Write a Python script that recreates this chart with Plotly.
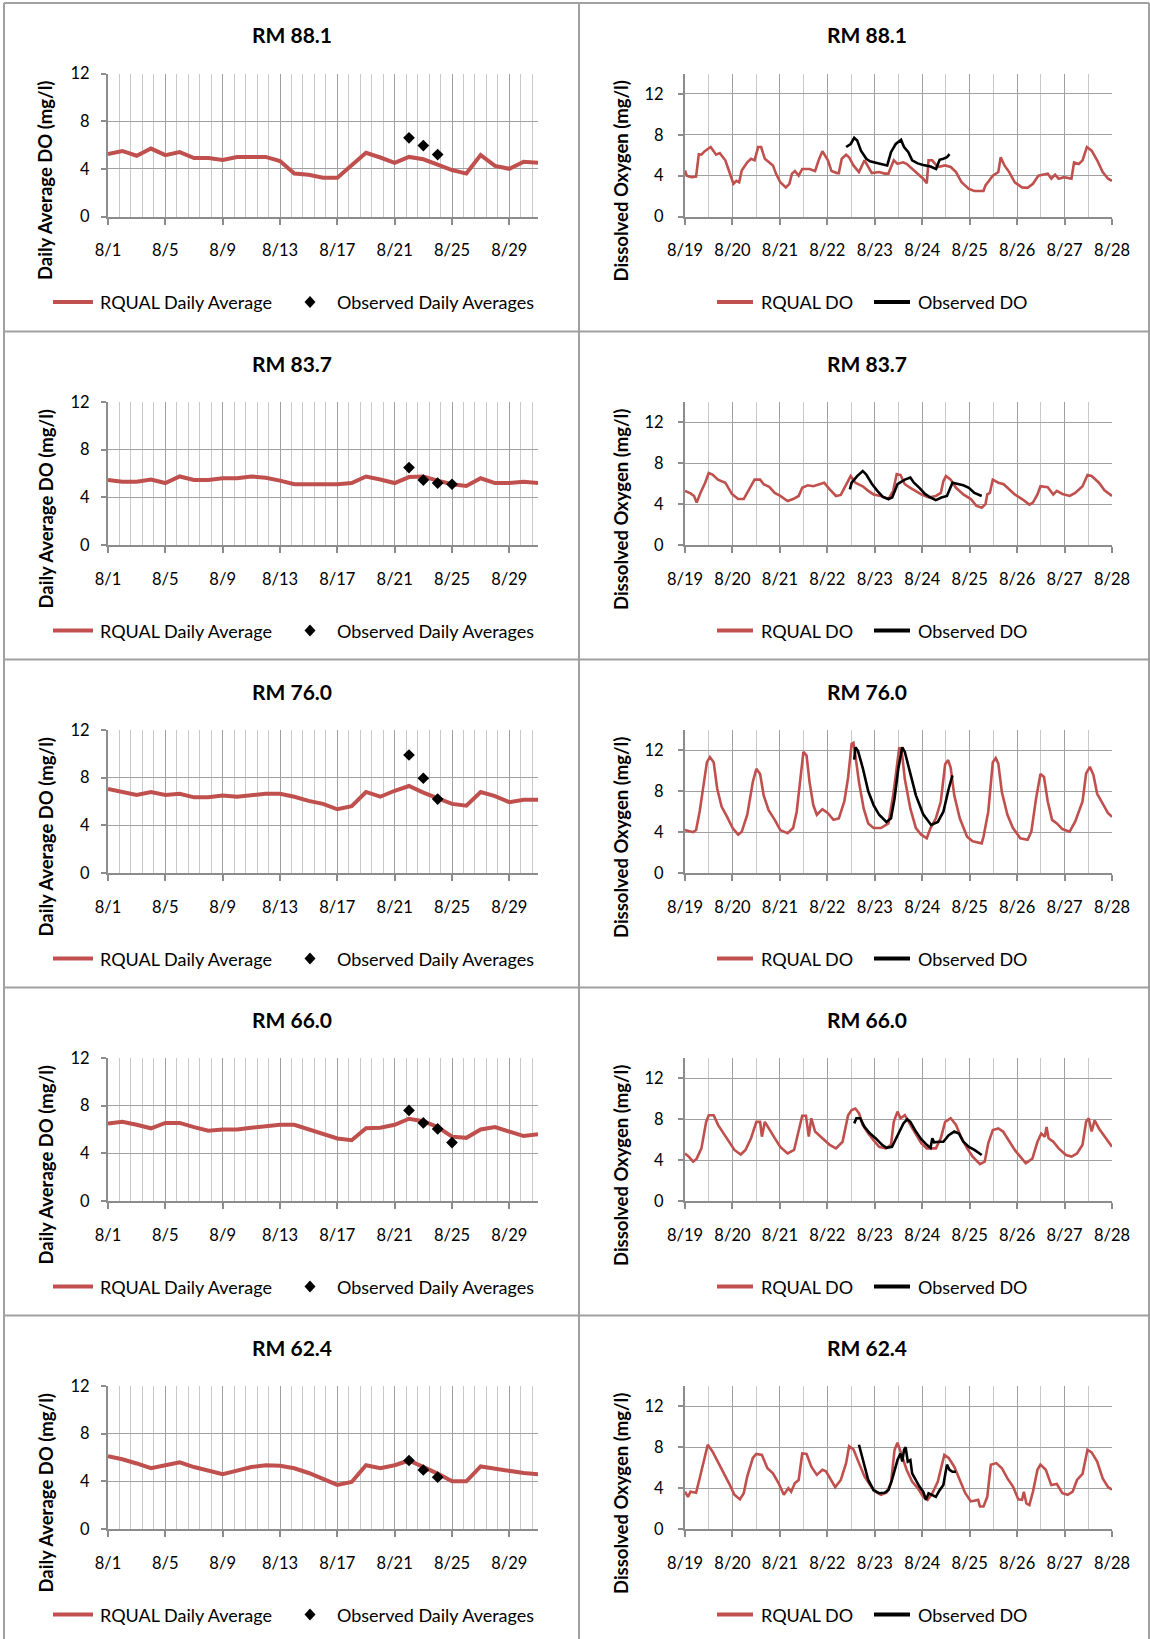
import plotly.graph_objects as go
import pandas as pd

# ---------------- DATA ----------------
titles = ["RM 88.1", "RM 83.7", "RM 76.0", "RM 66.0", "RM 62.4"]

# Daily averages 8/1 .. 8/31 (left column)
rm881_avg = [5.25, 5.5, 5.1, 5.7, 5.15, 5.4, 4.9, 4.9, 4.75, 5.0, 5.0, 5.0, 4.65, 3.6, 3.5, 3.25,
             3.25, 4.3, 5.35, 4.95, 4.5, 5.0, 4.8, 4.35, 3.9, 3.6, 5.15, 4.25, 4.0, 4.6, 4.5]
rm837_avg = [5.45, 5.3, 5.3, 5.5, 5.2, 5.75, 5.45, 5.45, 5.6, 5.6, 5.75, 5.65, 5.4, 5.1, 5.1, 5.1,
             5.1, 5.2, 5.75, 5.5, 5.2, 5.7, 5.75, 5.4, 5.1, 4.95, 5.6, 5.2, 5.2, 5.3, 5.2]
rm760_avg = [7.05, 6.8, 6.55, 6.8, 6.55, 6.65, 6.35, 6.35, 6.5, 6.4, 6.5, 6.65, 6.65, 6.4, 6.05, 5.8,
             5.35, 5.6, 6.8, 6.4, 6.9, 7.3, 6.75, 6.25, 5.8, 5.65, 6.8, 6.45, 5.95, 6.15, 6.15]
rm660_avg = [6.5, 6.65, 6.4, 6.1, 6.55, 6.55, 6.2, 5.9, 6.0, 6.0, 6.15, 6.25, 6.4, 6.4, 6.0, 5.65,
             5.25, 5.1, 6.1, 6.15, 6.4, 6.9, 6.7, 6.2, 5.4, 5.3, 6.0, 6.2, 5.8, 5.45, 5.6]
rm624_avg = [6.1, 5.85, 5.5, 5.1, 5.35, 5.6, 5.2, 4.9, 4.6, 4.9, 5.2, 5.35, 5.3, 5.1, 4.7, 4.2,
             3.7, 3.95, 5.35, 5.1, 5.35, 5.75, 5.2, 4.65, 4.0, 4.0, 5.25, 5.05, 4.9, 4.7, 4.6]

# Observed daily averages (day of August, value)
rm881_obs_day = [22, 23, 24]
rm881_obs = [6.6, 5.95, 5.2]
rm837_obs_day = [22, 23, 24, 25]
rm837_obs = [6.5, 5.45, 5.2, 5.1]
rm760_obs_day = [22, 23, 24]
rm760_obs = [9.9, 7.95, 6.2]
rm660_obs_day = [22, 23, 24, 25]
rm660_obs = [7.6, 6.55, 6.05, 4.9]
rm624_obs_day = [22, 23, 24]
rm624_obs = [5.75, 4.95, 4.35]

# Time series (hours after 8/19 00:00, DO mg/l) - right column
rm881_rq_h = [0, 0.9, 3.3, 5.6, 7, 8.3, 10, 13, 14.5, 15.7, 17.6, 20.4, 22.2, 24.5, 26, 27.4, 28.7, 31.5,
              33.4, 35.2, 37, 38.5, 40.4, 42.6, 44.5, 46, 48.2, 51, 52.8, 54.1, 55.6, 57.5, 59.3, 63, 65.8,
              67.6, 69.5, 72.3, 74.1, 76.9, 77.8, 79.3, 81.5, 83, 85.2, 88, 90.8, 92.7, 94.5, 98.2, 101,
              102.9, 105.6, 107.5, 110.3, 112.1, 114.9, 117.7, 120.5, 122.3, 123.2, 125, 127.9, 131.6,
              134.4, 137.1, 139.9, 143.6, 146.4, 151, 152, 153.8, 155.7, 158.5, 159.7, 161.6, 164, 166.8,
              170.5, 173.3, 176, 178.8, 181.6, 183.5, 185.3, 187.2, 189, 191.8, 195.5, 196.8, 199.2,
              201.1, 203.3, 205.7, 208.5, 211.3, 214, 216]
rm881_rq_do = [4.5, 4.0, 3.85, 3.9, 6.1, 6.05, 6.4, 6.8, 6.4, 6.05, 6.2, 5.5, 4.5, 3.2, 3.5, 3.35, 4.5, 5.3,
               5.65, 5.5, 6.8, 6.8, 5.65, 5.3, 5.0, 4.2, 3.35, 2.85, 3.2, 4.2, 4.45, 4.0, 4.65, 4.65, 4.45,
               5.5, 6.4, 5.5, 4.45, 4.25, 4.25, 5.65, 6.05, 5.8, 5.0, 4.35, 5.5, 4.85, 4.25, 4.35, 4.2,
               4.2, 5.5, 5.15, 5.3, 5.15, 4.65, 4.2, 3.7, 3.25, 5.5, 5.5, 4.85, 5.0,
               4.85, 4.35, 3.35, 2.7, 2.5, 2.5, 3.05, 3.5, 4.0, 4.35, 5.8, 5.0, 4.35, 3.35,
               2.85, 2.8, 3.2, 4.0, 4.1, 4.2, 3.7, 4.1, 3.7, 3.85, 3.7, 5.3, 5.15,
               5.5, 6.8, 6.45, 5.5, 4.35, 3.7, 3.5]
rm881_ob_h = [81.5, 83.8, 85.6, 87.1, 89, 91.7, 93.6, 96.4, 99.1, 102.3, 104.2, 106.6, 109.3, 110.8, 113,
              114.9, 117.7, 120.5, 124.2, 127, 128.8, 130.7, 132.5, 133.8]
rm881_ob_do = [6.8, 7.1, 7.7, 7.45, 6.45, 5.65, 5.4, 5.3, 5.15, 5.0, 6.3, 7.1, 7.5, 6.8, 6.3,
               5.5, 5.2, 5.05, 4.9, 4.65, 5.55, 5.65, 5.8, 6.1]

rm837_rq_h = [0, 2.8, 4.6, 5.9, 7.8, 10.2, 12, 13.9, 16.7, 20.4, 23.7, 26.9, 29.7, 32.4, 35.2, 38, 39.8,
              42.6, 45.4, 48.2, 51.9, 54.7, 57.5, 59.3, 62.1, 64.9, 67.6, 70.4, 73.2, 76.4, 78.8, 81.5,
              83.8, 86.2, 89.9, 92.7, 95.4, 99.1, 102.9, 105.3, 107.1, 109, 111.2, 114, 116.8, 119.5,
              123.2, 126.9, 129.4, 130.7, 132, 134.4, 137.1, 140.8, 144.6, 147.3, 150.1, 152, 152.9,
              154.2, 155.7, 158.5, 161.2, 164, 166.8, 170.5, 174.2, 176, 178.3, 179.8, 183.5, 186.3,
              188.1, 190.9, 194.6, 197.4, 201.1, 203.6, 205.7, 209.4, 212.2, 216]
rm837_rq_do = [5.3, 5.05, 4.8, 4.15, 5.1, 6.1, 7.05, 6.9, 6.4, 6.1, 5.0, 4.5, 4.5, 5.45, 6.4, 6.4, 5.95,
               5.7, 5.1, 4.8, 4.3, 4.5, 4.8, 5.6, 5.85, 5.75, 5.95, 6.1, 5.45, 4.8, 4.9, 5.95,
               6.75, 6.1, 5.75, 5.3, 4.95, 4.8, 4.5, 5.3, 6.95, 6.85, 5.95, 5.6, 5.3, 4.95,
               4.65, 4.8, 5.1, 6.25, 6.75, 6.4, 5.6, 4.95, 4.5, 3.85, 3.65, 4.0, 4.95,
               5.1, 6.4, 6.1, 5.95, 5.45, 4.95, 4.5, 3.95, 4.15, 4.95, 5.75, 5.65, 4.95,
               5.3, 5.0, 4.8, 5.1, 5.75, 6.85, 6.75, 6.1, 5.35, 4.8]
rm837_ob_h = [83.4, 84.3, 87.1, 89.9, 91.7, 94.5, 97.3, 100.1, 102.9, 104.8, 107.5, 111.2, 114, 115.8,
              118.6, 121.4, 124.2, 126.9, 129.7, 132.5, 135.3, 138.1, 140.8, 143.6, 146.4, 150.1]
rm837_ob_do = [5.45, 6.1, 6.75, 7.25, 6.9, 6.0, 5.3, 4.7, 4.5, 4.65, 5.95, 6.4, 6.6, 6.1,
               5.6, 5.0, 4.65, 4.4, 4.65, 4.8, 6.1, 6.0, 5.85, 5.6, 5.1, 4.8]

rm760_rq_h = [0, 1.9, 4.1, 5.6, 7.4, 9.6, 11.1, 12.6, 14.5, 16.3, 18.5, 21.3, 24.1, 26.9, 28.7, 31.5, 34.3,
              36.1, 38, 39.8, 42.3, 45.4, 48.2, 51.9, 54.7, 56.5, 58.4, 59.9, 61.5, 63, 64.9, 66.7, 69.5,
              72.3, 75.1, 77.8, 80.6, 82.5, 84.3, 85.2, 86.2, 88, 90.4, 92.7, 95.4, 99.1, 102.9, 105.3,
              106.6, 108.4, 109.7, 111.2, 114, 116.8, 119.5, 122.3, 124.2, 126.9, 129.4, 131.6, 133.1,
              134.4, 136.2, 139, 142.7, 145.5, 150.1, 151, 153.4, 155.7, 157.2, 158.5, 160.3, 163.1,
              165.9, 169.6, 173.3, 175.2, 177.6, 179.8, 181.6, 183.5, 185.7, 188.1, 190.9, 194.6, 197.4,
              201.1, 202.9, 204.8, 206.6, 208.5, 211.3, 214, 216]
rm760_rq_do = [4.2, 4.1, 4.0, 4.2, 6.0, 8.9, 10.85, 11.35, 10.85, 8.25, 6.5, 5.5, 4.4, 3.75, 4.05, 5.7, 8.9,
               10.2, 9.7, 7.6, 6.15, 5.2, 4.2, 3.9, 4.4, 6.0, 9.65, 11.85, 11.5, 8.9, 6.65, 5.7, 6.25,
               5.85, 5.2, 5.35, 7.0, 9.35, 12.65, 12.75, 11.5, 8.9, 6.3, 4.85, 4.4, 4.4, 4.85, 7.6,
               9.55, 12.3, 11.8, 9.2, 6.3, 4.4, 3.75, 3.4, 4.4, 5.35, 7.0, 10.65, 11.05,
               10.3, 7.6, 5.35, 3.55, 3.1, 2.9, 3.55, 6.0, 10.85, 11.25, 10.7, 7.9, 5.7,
               4.4, 3.4, 3.25, 4.05, 7.3, 9.7, 9.4, 7.0, 5.2, 4.85, 4.3, 4.05, 5.05,
               7.0, 9.75, 10.4, 9.6, 7.75, 6.8, 5.85, 5.5]
rm760_ob_h = [85.6, 86.2, 87.5, 89.9, 92.7, 95.4, 98.2, 101.9, 104.2, 106, 107.9, 109.9, 111.2, 114,
              116.8, 120.5, 124.5, 127.9, 130.7, 133.4, 135.3]
rm760_ob_do = [11.1, 12.3, 11.95, 10.3, 8.0, 6.65, 5.7, 5.0, 5.35, 7.3, 10.2, 12.3, 11.85, 9.7,
               7.6, 5.75, 4.7, 5.0, 6.0, 8.25, 9.55]

rm660_rq_h = [0, 1.9, 4.1, 5.9, 8.3, 10.7, 12, 14.5, 16.7, 19.5, 22.2, 25, 28.2, 30.6, 33.4, 36.1, 38,
              38.9, 40.4, 42.3, 45.4, 48.2, 51.9, 55.2, 57.5, 59.3, 61.2, 62.6, 63.9, 65.8, 69.5, 73.2,
              76.4, 79.7, 82.5, 84.3, 86.2, 88, 89.9, 92.7, 95.4, 98.2, 101.6, 104.2, 105.6, 107.5, 109,
              111.2, 114, 116.8, 119.5, 122.3, 126.9, 129.4, 131.6, 134.4, 137.1, 139.9, 142.7, 145.5,
              149.2, 151.6, 153.4, 155.7, 158.5, 160.9, 164, 166.8, 169.6, 172.4, 175.7, 178.3, 180.2,
              182, 182.9, 183.9, 186.3, 189, 192.7, 195.5, 198.3, 201.1, 202.9, 204.2, 205.7, 207.2,
              209.4, 212.2, 216]
rm660_rq_do = [4.65, 4.35, 3.85, 4.15, 5.15, 7.75, 8.4, 8.4, 7.45, 6.6, 5.8, 5.0, 4.55, 5.0, 6.15, 7.75, 7.75,
               6.3, 7.75, 7.1, 6.15, 5.3, 4.65, 5.0, 6.8, 8.35, 8.35, 6.3, 8.1, 6.8, 6.15, 5.5,
               5.15, 5.8, 8.4, 8.9, 9.05, 8.6, 7.45, 6.6, 5.95, 5.3, 5.15, 5.5, 7.75, 8.75, 8.1,
               8.4, 7.45, 6.6, 5.65, 5.15, 5.15, 6.15, 7.75, 8.1, 7.45, 6.15, 5.15, 4.35,
               3.6, 3.85, 5.65, 6.95, 7.1, 6.8, 5.8, 5.0, 4.35, 3.7, 4.15, 5.8, 6.6,
               6.3, 7.25, 6.15, 5.8, 5.15, 4.5, 4.35, 4.65, 5.5, 7.75, 8.1, 6.8, 7.9,
               7.1, 6.3, 5.3]
rm660_ob_h = [85.6, 86.7, 88.6, 90.8, 93.6, 96.4, 99.7, 101.9, 104.7, 107.1, 110.5, 112.4, 114, 116.8,
              119.5, 122.3, 124.2, 125.1, 126, 128.8, 130.7, 133.4, 136.2, 138.6, 140.8, 143.6, 146.4, 150.1]
rm660_ob_do = [7.6, 8.1, 8.1, 7.25, 6.6, 6.15, 5.5, 5.2, 5.3, 6.3, 7.6, 8.0, 7.75, 6.8,
               6.05, 5.5, 5.2, 6.15, 5.75, 5.8, 5.8, 6.45, 6.8, 6.6, 5.8, 5.3, 5.0, 4.5]

rm624_rq_h = [0, 1.5, 2.8, 5.6, 7.4, 9.6, 11.5, 13.9, 16.7, 19.5, 22.2, 25, 27.8, 29.7, 31.5, 34.3, 36.1,
              38.9, 41.7, 44.5, 47.3, 50, 52.3, 53.7, 55.6, 57.5, 59.3, 61.5, 63.9, 66.7, 69.5, 71.3, 74.1,
              76, 78.8, 81.5, 83, 85.2, 88, 90.8, 93.6, 96.4, 99.1, 101.9, 104.2, 106, 107.5, 109.3, 112.1,
              114.9, 117.7, 120.5, 122.7, 125.1, 127.9, 129.7, 131.2, 133.4, 136.2, 139, 141.8, 144.6,
              147.3, 148.3, 149.2, 151, 152.9, 154.7, 157.5, 160.3, 163.1, 165.9, 168.6, 170.5, 171.4,
              172.7, 174.2, 176, 178.3, 179.8, 182.5, 185.3, 188.1, 190.9, 193.6, 196.1, 198.3, 201.1,
              203.6, 205.7, 208.5, 211.3, 214, 216]
rm624_rq_do = [3.65, 3.15, 3.65, 3.55, 4.95, 6.6, 8.25, 7.6, 6.6, 5.45, 4.5, 3.35, 2.9, 3.5, 5.15, 6.95, 7.35,
               7.25, 5.95, 5.45, 4.5, 3.35, 4.0, 3.65, 4.5, 4.8, 7.4, 7.35, 6.1, 5.3, 5.8, 5.65, 4.65,
               4.1, 4.8, 6.45, 8.1, 7.8, 6.45, 5.15, 4.3, 3.65, 3.35, 3.55, 4.5, 7.75, 8.45, 7.4, 5.8,
               4.65, 4.0, 3.15, 2.85, 3.5, 4.65, 6.1, 7.25, 6.95, 6.1, 4.8, 3.5, 2.7,
               2.8, 2.85, 2.2, 2.2, 3.15, 6.3, 6.45, 5.95, 4.95, 4.15, 2.9, 2.85, 3.65,
               2.5, 2.35, 3.65, 5.8, 6.3, 5.8, 4.3, 4.4, 3.5, 3.35, 3.65, 4.8, 5.4,
               7.75, 7.5, 6.6, 4.95, 4.1, 3.85]
rm624_ob_h = [88, 89.9, 92.7, 95.4, 98.2, 100.9, 102.9, 104.7, 106.6, 107.5, 109, 109.9, 110.8, 111.6,
              112.7, 114, 114.9, 116.8, 118.6, 120.5, 121.9, 123.2, 125.1, 126.9, 128.8, 130.7, 132.5,
              133.8, 135.3, 137.1]
rm624_ob_do = [8.25, 6.75, 4.8, 3.8, 3.5, 3.55, 3.8, 4.8, 6.3, 6.75, 7.4, 6.6, 7.75, 8.0,
               6.6, 6.75, 5.45, 4.8, 4.15, 3.65, 2.85, 3.5, 3.35, 3.15, 3.8, 4.3, 6.3,
               5.8, 5.6, 5.6]

left_ticks_y = [0, 4, 8, 12]
right_ticks_y = [0, 4, 8, 12]

# ---------------- LAYOUT HELPERS ----------------
W, H = 1150, 1639
FONT = "Lato"
RED = "#C0504D"
ROW_TOPS = [3, 331.5, 659.5, 987.5, 1315.5]
LX0, LX1 = 108, 538      # left plot area (px)
RX0, RX1 = 685, 1112     # right plot area (px)


def px(x):
    return x / W


def py(y):
    return 1 - y / H


aug = pd.Timestamp("2011-08-01")
days = pd.date_range("2011-08-01", periods=31, freq="D")
t0 = pd.Timestamp("2011-08-19")


def hours_to_dt(hrs):
    return [t0 + pd.Timedelta(hours=h) for h in hrs]


def obs_dates(ds):
    return [aug + pd.Timedelta(days=d - 1) for d in ds]


panels = [
    (rm881_avg, rm881_obs_day, rm881_obs, rm881_rq_h, rm881_rq_do, rm881_ob_h, rm881_ob_do),
    (rm837_avg, rm837_obs_day, rm837_obs, rm837_rq_h, rm837_rq_do, rm837_ob_h, rm837_ob_do),
    (rm760_avg, rm760_obs_day, rm760_obs, rm760_rq_h, rm760_rq_do, rm760_ob_h, rm760_ob_do),
    (rm660_avg, rm660_obs_day, rm660_obs, rm660_rq_h, rm660_rq_do, rm660_ob_h, rm660_ob_do),
    (rm624_avg, rm624_obs_day, rm624_obs, rm624_rq_h, rm624_rq_do, rm624_ob_h, rm624_ob_do),
]

fig = go.Figure()
layout = {}
shapes = []
annotations = []

DAY_MS = 86400000
GRID_MAJ = "#a0a0a0"
GRID_MIN = "#c8c8c8"
AXIS_COL = "#8c8c8c"

for i, (avg, od, ov, rqh, rqv, obh, obv) in enumerate(panels):
    R = ROW_TOPS[i]
    ydom = [py(R + 213.5), py(R + 70.5)]
    nl, nr = 2 * i + 1, 2 * i + 2
    kl = "" if nl == 1 else str(nl)
    kr = str(nr)

    # left: daily averages
    fig.add_trace(go.Scatter(x=days, y=avg, mode="lines", line=dict(color=RED, width=4),
                             xaxis="x" + kl, yaxis="y" + kl, showlegend=False))
    fig.add_trace(go.Scatter(x=obs_dates(od), y=ov, mode="markers",
                             marker=dict(symbol="diamond", size=9, color="black"),
                             xaxis="x" + kl, yaxis="y" + kl, showlegend=False))
    # right: time series
    fig.add_trace(go.Scatter(x=hours_to_dt(rqh), y=rqv, mode="lines", line=dict(color=RED, width=2.6),
                             xaxis="x" + kr, yaxis="y" + kr, showlegend=False))
    fig.add_trace(go.Scatter(x=hours_to_dt(obh), y=obv, mode="lines", line=dict(color="black", width=2.6),
                             xaxis="x" + kr, yaxis="y" + kr, showlegend=False))

    tickfont = dict(family=FONT, size=16.5, color="black")
    common = dict(automargin=False, fixedrange=True, zeroline=False, tickfont=tickfont,
                  showgrid=True, gridcolor=GRID_MAJ, gridwidth=1.3,
                  ticks="outside", tickwidth=1.5, tickcolor=AXIS_COL,
                  showline=True, linecolor=AXIS_COL, linewidth=2)
    layout["xaxis" + kl] = dict(
        domain=[px(LX0), px(LX1)], anchor="y" + kl, type="date",
        range=[days[0], days[-1]], tickformat="%-m/%-d", tick0=days[0], dtick=4 * DAY_MS,
        minor=dict(tick0=days[0], dtick=0.8 * DAY_MS, showgrid=True, gridcolor=GRID_MIN, gridwidth=1.3),
        ticklen=6, tickangle=0, ticklabelstandoff=12, **common)
    layout["yaxis" + kl] = dict(
        domain=ydom, anchor="x" + kl, range=[0, 12], tickvals=left_ticks_y,
        ticklen=5, ticklabelstandoff=8, **common)
    layout["xaxis" + kr] = dict(
        domain=[px(RX0), px(RX1)], anchor="y" + kr, type="date",
        range=[t0, t0 + pd.Timedelta(days=9)], tickformat="%-m/%-d", tick0=t0, dtick=DAY_MS,
        minor=dict(tick0=t0, dtick=0.5 * DAY_MS, showgrid=True, gridcolor=GRID_MIN, gridwidth=1.3),
        ticklen=6, tickangle=0, ticklabelstandoff=12, **common)
    layout["yaxis" + kr] = dict(
        domain=ydom, anchor="x" + kr, range=[0, 14], tickvals=right_ticks_y,
        ticklen=5, ticklabelstandoff=11, **common)

    # titles
    for xc in (292, 867):
        annotations.append(dict(x=px(xc), y=py(R + 32), xref="paper", yref="paper",
                                text="<b>" + titles[i] + "</b>", showarrow=False,
                                xanchor="center", yanchor="middle",
                                font=dict(family=FONT, size=21, color="black")))
    # axis titles
    annotations.append(dict(x=px(45), y=py(R + 178), xref="paper", yref="paper",
                            text="<b>Daily Average DO (mg/l)</b>", textangle=-90, showarrow=False,
                            xanchor="center", yanchor="middle",
                            font=dict(family=FONT, size=18.5, color="black")))
    annotations.append(dict(x=px(620.5), y=py(R + 178), xref="paper", yref="paper",
                            text="<b>Dissolved Oxygen (mg/l)</b>", textangle=-90, showarrow=False,
                            xanchor="center", yanchor="middle",
                            font=dict(family=FONT, size=18.5, color="black")))

    # legends
    ly = R + 299
    legfont = dict(family=FONT, size=18, color="black")
    shapes.append(dict(type="line", xref="paper", yref="paper", x0=px(53), x1=px(93),
                       y0=py(ly), y1=py(ly), line=dict(color=RED, width=4)))
    annotations.append(dict(x=px(97.5), y=py(ly), xref="paper", yref="paper", text="RQUAL Daily Average",
                            showarrow=False, xanchor="left", yanchor="middle", font=legfont))
    dx, dy = 5.5, 6
    cx = 310
    shapes.append(dict(type="path", xref="paper", yref="paper",
                       path=f"M {px(cx)},{py(ly - dy)} L {px(cx + dx)},{py(ly)} L {px(cx)},{py(ly + dy)} "
                            f"L {px(cx - dx)},{py(ly)} Z",
                       fillcolor="black", line=dict(color="black", width=0)))
    annotations.append(dict(x=px(334.5), y=py(ly), xref="paper", yref="paper", text="Observed Daily Averages",
                            showarrow=False, xanchor="left", yanchor="middle", font=legfont))
    shapes.append(dict(type="line", xref="paper", yref="paper", x0=px(717), x1=px(753),
                       y0=py(ly), y1=py(ly), line=dict(color=RED, width=4)))
    annotations.append(dict(x=px(759), y=py(ly), xref="paper", yref="paper", text="RQUAL DO",
                            showarrow=False, xanchor="left", yanchor="middle", font=legfont))
    shapes.append(dict(type="line", xref="paper", yref="paper", x0=px(874), x1=px(910),
                       y0=py(ly), y1=py(ly), line=dict(color="black", width=4)))
    annotations.append(dict(x=px(916), y=py(ly), xref="paper", yref="paper", text="Observed DO",
                            showarrow=False, xanchor="left", yanchor="middle", font=legfont))

# cell borders
BORDER = "#a0a0a0"
for yb in ROW_TOPS:
    shapes.append(dict(type="line", xref="paper", yref="paper", x0=px(4), x1=px(1149),
                       y0=py(yb), y1=py(yb), line=dict(color=BORDER, width=2)))
for xb in (4, 579, 1149):
    shapes.append(dict(type="line", xref="paper", yref="paper", x0=px(xb), x1=px(xb),
                       y0=py(3), y1=py(1639), line=dict(color=BORDER, width=2)))

fig.update_layout(**layout)
fig.update_layout(width=W, height=H, margin=dict(l=0, r=0, t=0, b=0, pad=0, autoexpand=False),
                  paper_bgcolor="white", plot_bgcolor="white",
                  shapes=shapes, annotations=annotations, showlegend=False,
                  font=dict(family=FONT, color="black"))

fig.write_html("out.html", config={"displayModeBar": False},
               post_script="document.body.style.margin='0';document.body.style.overflow='hidden';")
